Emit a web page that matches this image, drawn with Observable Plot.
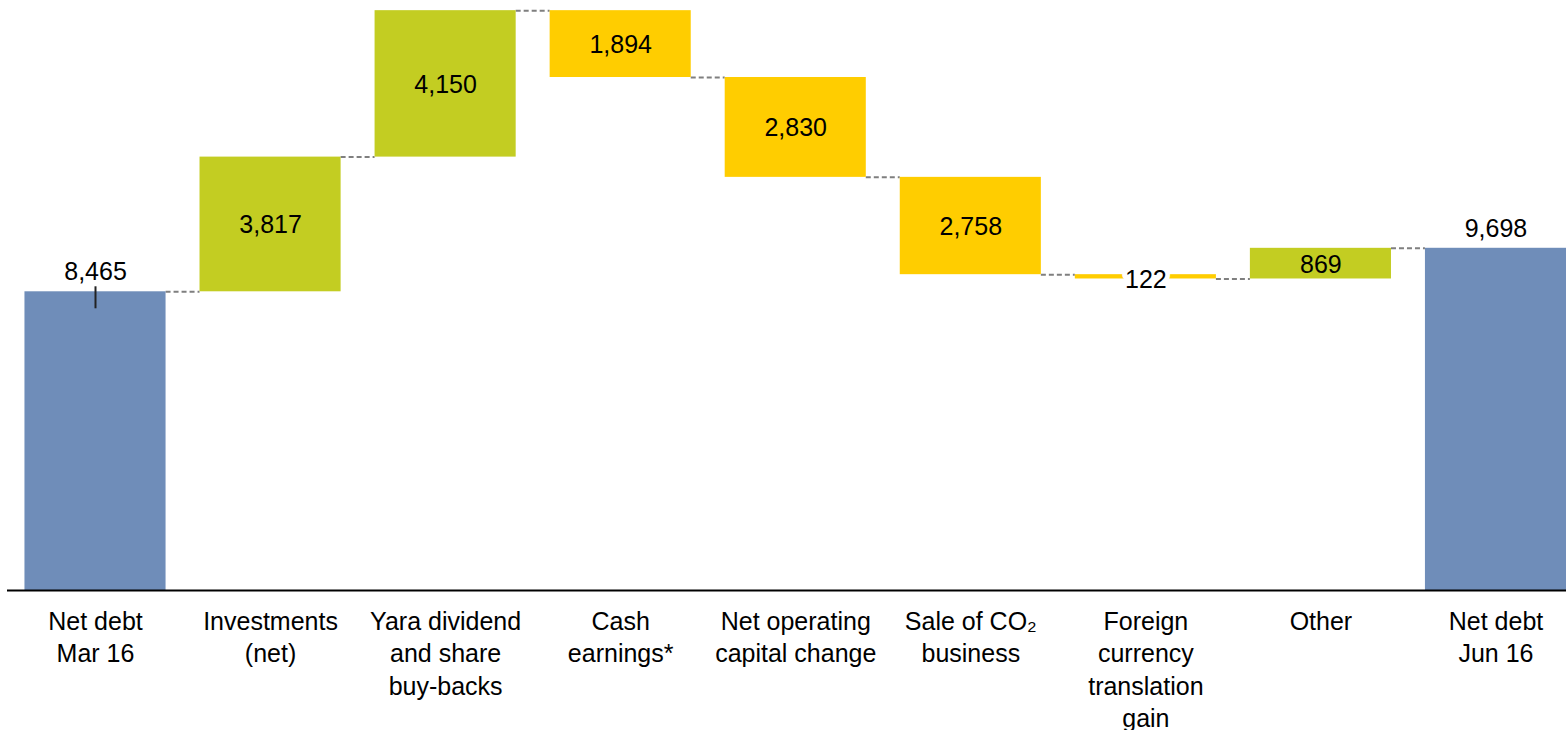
<!DOCTYPE html>
<html>
<head>
<meta charset="utf-8">
<script src="https://cdn.jsdelivr.net/npm/d3@7"></script>
<script src="https://cdn.jsdelivr.net/npm/@observablehq/plot@0.6"></script>
<style>
  html, body { margin: 0; padding: 0; background: #fff; }
  #chart { width: 1566px; height: 730px; overflow: hidden; }
</style>
</head>
<body>
<div id="chart"></div>
<script>
// ---- data ----
const categories = [
  "Net debt\nMar 16",
  "Investments\n(net)",
  "Yara dividend\nand share\nbuy-backs",
  "Cash\nearnings*",
  "Net operating\ncapital change",
  "Sale of CO₂\nbusiness",
  "Foreign\ncurrency\ntranslation\ngain",
  "Other",
  "Net debt\nJun 16"
];
const values = [8465, 3817, 4150, -1894, -2830, -2758, -122, 869, 9698];
const kinds = ["total", "up", "up", "down", "down", "down", "down", "up", "total"];

// ---- build waterfall table ----
let running = 0;
const rows = values.map((v, i) => {
  let y1, y2;
  if (kinds[i] === "total") { y1 = 0; y2 = v; running = v; }
  else { y1 = running; y2 = running + v; running = y2; }
  return {i, name: categories[i], kind: kinds[i], value: v, y1, y2, level: running,
          label: d3.format(",")(Math.abs(v))};
});
const connectors = rows.slice(0, -1).map((r, k) => ({from: r.i, to: rows[k + 1].i, level: r.level}));

const HW = 0.403; // half bar width in category units
const colors = {total: "#6F8DB9", up: "#C3CD22", down: "#FFCD00"};
const FS = 25;

const chart = Plot.plot({
  width: 1566,
  height: 730,
  marginTop: 0,
  marginLeft: 0,
  marginRight: 0,
  marginBottom: 140,
  style: {fontFamily: "'Liberation Sans', Arial, Helvetica, sans-serif", fontSize: FS + "px", background: "#fff", color: "#000"},
  x: {type: "linear", domain: [-0.5427, 8.4028], axis: null},
  y: {domain: [0, 16720], axis: null},
  marks: [
    // connectors
    Plot.ruleY(connectors, {
      x1: d => d.from + HW, x2: d => d.to - HW, y: "level",
      stroke: "#7F7F7F", strokeWidth: 2, strokeDasharray: "5,3"
    }),
    // bars
    Plot.rectY(rows, {
      x1: d => d.i - HW, x2: d => d.i + HW, y1: "y1", y2: "y2",
      fill: d => colors[d.kind]
    }),
    // small tick under the first total label
    Plot.ruleX(rows.filter(d => d.i === 0), {
      x: "i", y1: "y2", y2: "y2", insetTop: -5, insetBottom: -17,
      stroke: "#222", strokeWidth: 2
    }),
    // axis baseline
    Plot.ruleY([0], {stroke: "#000", strokeWidth: 2, insetLeft: 7}),
    // total labels above bars
    Plot.text(rows.filter(d => d.kind === "total"), {
      x: "i", y: "y2", text: "label", dy: -19.5, fill: "#000", fontSize: FS
    }),
    // delta labels inside bars
    Plot.text(rows.filter(d => d.kind !== "total" && Math.abs(d.value) >= 500), {
      x: "i", y: d => (d.y1 + d.y2) / 2, text: "label", dy: 1, fill: "#000", fontSize: FS
    }),
    // small delta labels with white halo
    Plot.text(rows.filter(d => d.kind !== "total" && Math.abs(d.value) < 500), {
      x: "i", y: d => (d.y1 + d.y2) / 2, text: "label", dy: 3, fill: "#000", fontSize: FS,
      stroke: "#fff", strokeWidth: 10
    }),
    // category labels
    Plot.axisX({
      ticks: d3.range(categories.length),
      tickFormat: i => categories[i],
      tickSize: 0,
      tickPadding: 16,
      fontSize: FS,
      lineHeight: 1.3,
      fill: "#000",
      label: null
    })
  ]
});
document.getElementById("chart").appendChild(chart);
</script>
</body>
</html>
